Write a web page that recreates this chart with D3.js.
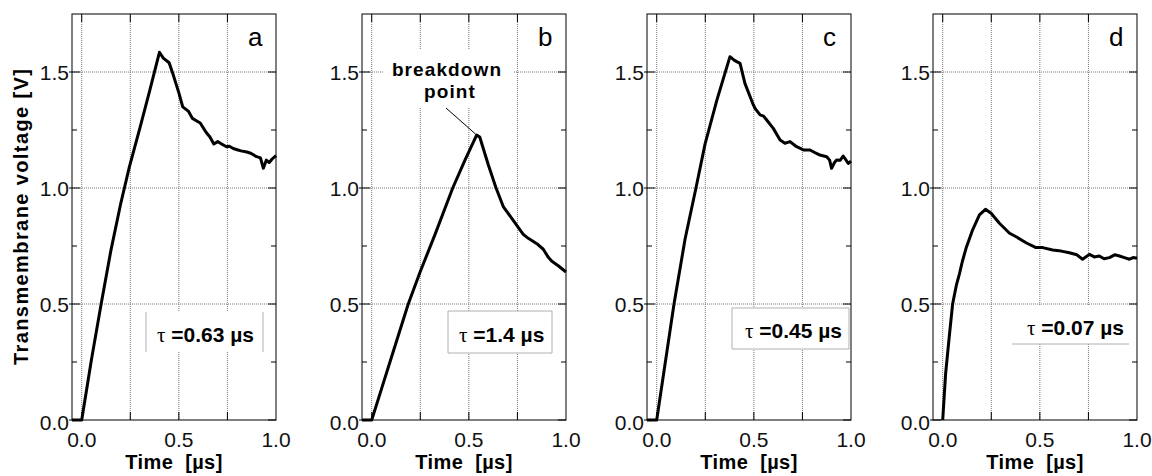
<!DOCTYPE html>
<html lang="en">
<head>
    <meta charset="UTF-8">
    <title>Transmembrane voltage panels</title>
    <script src="https://d3js.org/d3.v7.min.js"></script>
    <style>
        body { margin: 0; background: #fff; }
        svg { font-family: "Liberation Sans", Arial, sans-serif; }
        .grid line { stroke: #777; stroke-width: 1; stroke-dasharray: 1,1; }
        .tick-lab { font-size: 21px; fill: #111; }
    </style>
</head>
<body>
    <script>
        // series: time in µs, voltage in V
        const timeA = [-0.05, 0, 0.05, 0.1, 0.15, 0.2, 0.245, 0.3, 0.35, 0.4, 0.42, 0.45, 0.47, 0.5, 0.52, 0.55, 0.57, 0.59, 0.61, 0.64, 0.66, 0.68, 0.7, 0.72, 0.745, 0.76, 0.78, 0.8, 0.82, 0.85, 0.87, 0.9, 0.92, 0.935, 0.95, 0.965, 0.98, 1.0];
        const voltA = [0, 0, 0.26, 0.5, 0.73, 0.93, 1.09, 1.26, 1.42, 1.585, 1.56, 1.54, 1.49, 1.41, 1.35, 1.33, 1.30, 1.29, 1.28, 1.24, 1.22, 1.19, 1.20, 1.19, 1.178, 1.18, 1.17, 1.165, 1.16, 1.155, 1.15, 1.135, 1.13, 1.085, 1.12, 1.11, 1.125, 1.14];

        const timeB = [-0.05, 0, 0.05, 0.1, 0.188, 0.25, 0.326, 0.417, 0.48, 0.54, 0.556, 0.6, 0.64, 0.677, 0.72, 0.78, 0.806, 0.85, 0.883, 0.91, 0.926, 0.96, 1.0];
        const voltB = [0, 0, 0.133, 0.266, 0.5, 0.64, 0.8, 1.0, 1.12, 1.228, 1.22, 1.10, 1.0, 0.92, 0.87, 0.80, 0.783, 0.76, 0.736, 0.70, 0.685, 0.665, 0.638];

        const timeC = [-0.05, 0, 0.089, 0.146, 0.202, 0.249, 0.31, 0.377, 0.4, 0.429, 0.454, 0.494, 0.506, 0.532, 0.55, 0.566, 0.6, 0.635, 0.66, 0.686, 0.72, 0.755, 0.789, 0.82, 0.84, 0.875, 0.89, 0.9, 0.915, 0.926, 0.945, 0.96, 0.986, 1.0];
        const voltC = [0, 0, 0.5, 0.78, 1.0, 1.19, 1.38, 1.566, 1.55, 1.537, 1.451, 1.365, 1.343, 1.315, 1.31, 1.293, 1.257, 1.207, 1.193, 1.2, 1.178, 1.164, 1.164, 1.15, 1.142, 1.135, 1.12, 1.085, 1.11, 1.121, 1.12, 1.138, 1.106, 1.116];

        const timeD = [0, 0.015, 0.034, 0.051, 0.07, 0.086, 0.1, 0.12, 0.154, 0.189, 0.22, 0.249, 0.292, 0.344, 0.378, 0.429, 0.48, 0.515, 0.566, 0.61, 0.652, 0.69, 0.72, 0.755, 0.78, 0.806, 0.83, 0.858, 0.885, 0.91, 0.935, 0.961, 0.98, 1.0];
        const voltD = [0, 0.2, 0.362, 0.5, 0.58, 0.63, 0.68, 0.74, 0.82, 0.884, 0.908, 0.891, 0.848, 0.805, 0.79, 0.764, 0.743, 0.743, 0.733, 0.728, 0.721, 0.712, 0.693, 0.714, 0.703, 0.707, 0.695, 0.70, 0.712, 0.707, 0.70, 0.693, 0.70, 0.697];

        const panelLetters = ["a", "b", "c", "d"];
        const tauValues = ["0.63", "1.4", "0.45", "0.07"];
        const yTicks = [0, 0.5, 1.0, 1.5];
        const yMinor = [0.25, 0.75, 1.25];
        const xLabelTicks = [0, 0.5, 1.0];
        const xGrid = [0, 0.25, 0.5, 0.75];
        const breakdownTime = 0.54, breakdownVolt = 1.228;

        const series = [
            { t: timeA, v: voltA },
            { t: timeB, v: voltB },
            { t: timeC, v: voltC },
            { t: timeD, v: voltD }
        ];

        // layout
        const W = 1152, H = 476;
        const panelLeft = [72, 362, 647, 933];
        const pw = 204, plotTop = 14, plotBottom = 420;
        // legend boxes (relative to panel), and which borders are visible
        const boxes = [
            { x: 74, y: 312, w: 117, h: 40, tx: 85, ty: 342, sides: "lr" },
            { x: 86, y: 311, w: 104, h: 42, tx: 97, ty: 342, sides: "lrtb" },
            { x: 85, y: 308, w: 117, h: 41, tx: 98, ty: 338, sides: "lrtb" },
            { x: 79, y: 305, w: 117, h: 39, tx: 94, ty: 335, sides: "b" }
        ];

        const x = d3.scaleLinear().domain([-0.05, 1]).range([0, pw]);
        const y = d3.scaleLinear().domain([0, 1.75]).range([plotBottom, plotTop]);

        const line = d3.line()
            .x(d => x(d[0]))
            .y(d => y(d[1]));

        const svg = d3.select("body").append("svg")
            .attr("width", W)
            .attr("height", H);

        // y axis title
        svg.append("text")
            .attr("transform", `translate(28,${(plotTop + plotBottom) / 2}) rotate(-90)`)
            .attr("text-anchor", "middle")
            .attr("font-weight", "bold")
            .attr("font-size", 20)
            .attr("textLength", 296)
            .attr("lengthAdjust", "spacing")
            .text("Transmembrane voltage [V]");

        series.forEach((s, i) => {
            const g = svg.append("g").attr("transform", `translate(${panelLeft[i]},0)`);

            const grid = g.append("g").attr("class", "grid");
            grid.selectAll(".hg").data(yTicks.filter(d => d > 0)).enter().append("line")
                .attr("x1", 0).attr("x2", pw)
                .attr("y1", d => y(d)).attr("y2", d => y(d));
            grid.selectAll(".vg").data(xGrid).enter().append("line")
                .attr("x1", d => x(d)).attr("x2", d => x(d))
                .attr("y1", plotTop).attr("y2", plotBottom);

            // legend box
            const b = boxes[i];
            g.append("rect")
                .attr("x", b.x).attr("y", b.y).attr("width", b.w).attr("height", b.h)
                .attr("fill", "#fff");
            const edges = {
                l: [b.x, b.y, b.x, b.y + b.h],
                r: [b.x + b.w, b.y, b.x + b.w, b.y + b.h],
                t: [b.x, b.y, b.x + b.w, b.y],
                b: [b.x, b.y + b.h, b.x + b.w, b.y + b.h]
            };
            b.sides.split("").forEach(k => {
                const e = edges[k];
                g.append("line")
                    .attr("x1", e[0]).attr("y1", e[1]).attr("x2", e[2]).attr("y2", e[3])
                    .attr("stroke", "#b0b0b0").attr("stroke-width", 1);
            });
            const tau = g.append("text")
                .attr("x", b.tx).attr("y", b.ty)
                .attr("font-size", 21);
            tau.append("tspan")
                .attr("font-family", "'Liberation Serif', 'Times New Roman', serif")
                .text("τ");
            tau.append("tspan")
                .attr("font-weight", "bold")
                .text(" =" + tauValues[i] + " µs");

            // breakdown annotation in panel b
            if (i === 1) {
                g.append("rect")
                    .attr("x", 21).attr("y", 50).attr("width", 130).attr("height", 57)
                    .attr("fill", "#fff");
                g.append("text")
                    .attr("x", 85).attr("y", 76)
                    .attr("text-anchor", "middle")
                    .attr("font-weight", "bold").attr("font-size", 19)
                    .attr("letter-spacing", 1.1)
                    .text("breakdown");
                g.append("text")
                    .attr("x", 88).attr("y", 98)
                    .attr("text-anchor", "middle")
                    .attr("font-weight", "bold").attr("font-size", 19)
                    .attr("letter-spacing", 1.1)
                    .text("point");
                g.append("line")
                    .attr("x1", 84).attr("y1", 108)
                    .attr("x2", x(breakdownTime) - 1).attr("y2", y(breakdownVolt) - 1)
                    .attr("stroke", "#000").attr("stroke-width", 1);
            }

            // curve
            g.append("path")
                .datum(s.t.map((t, k) => [t, s.v[k]]))
                .attr("fill", "none")
                .attr("stroke", "#000")
                .attr("stroke-width", 3)
                .attr("stroke-linejoin", "round")
                .attr("d", line);

            // frame
            g.append("rect")
                .attr("x", 0).attr("y", plotTop).attr("width", pw).attr("height", plotBottom - plotTop)
                .attr("fill", "none").attr("stroke", "#000").attr("stroke-width", 1);

            // inward ticks
            const tk = g.append("g").attr("stroke", "#000").attr("stroke-width", 1);
            yTicks.forEach(v => {
                tk.append("line").attr("x1", -3).attr("x2", 8).attr("y1", y(v)).attr("y2", y(v));
                tk.append("line").attr("x1", pw - 8).attr("x2", pw).attr("y1", y(v)).attr("y2", y(v));
            });
            yMinor.forEach(v => {
                tk.append("line").attr("x1", 0).attr("x2", 5).attr("y1", y(v)).attr("y2", y(v));
                tk.append("line").attr("x1", pw - 5).attr("x2", pw).attr("y1", y(v)).attr("y2", y(v));
            });
            xGrid.forEach(v => {
                tk.append("line").attr("x1", x(v)).attr("x2", x(v)).attr("y1", plotBottom - 8).attr("y2", plotBottom);
                tk.append("line").attr("x1", x(v)).attr("x2", x(v)).attr("y1", plotTop).attr("y2", plotTop + 8);
            });

            // tick labels
            g.selectAll(".yl").data(yTicks).enter().append("text")
                .attr("class", "tick-lab")
                .attr("x", -3)
                .attr("y", d => y(d) + 7.5 + (d === 0 ? 2 : 0))
                .attr("text-anchor", "end")
                .text(d => d3.format(".1f")(d));
            g.selectAll(".xl").data(xLabelTicks).enter().append("text")
                .attr("class", "tick-lab")
                .attr("x", d => x(d))
                .attr("y", plotBottom + 27)
                .attr("text-anchor", "middle")
                .text(d => d3.format(".1f")(d));

            // x axis title
            g.append("text")
                .attr("x", pw / 2).attr("y", 469)
                .attr("text-anchor", "middle")
                .attr("font-weight", "bold").attr("font-size", 20)
                .attr("letter-spacing", 0.4)
                .style("white-space", "pre")
                .text("Time  [µs]");

            // panel letter
            g.append("text")
                .attr("x", pw - 28).attr("y", 46)
                .attr("font-size", 26)
                .text(panelLetters[i]);
        });
    </script>
</body>
</html>
